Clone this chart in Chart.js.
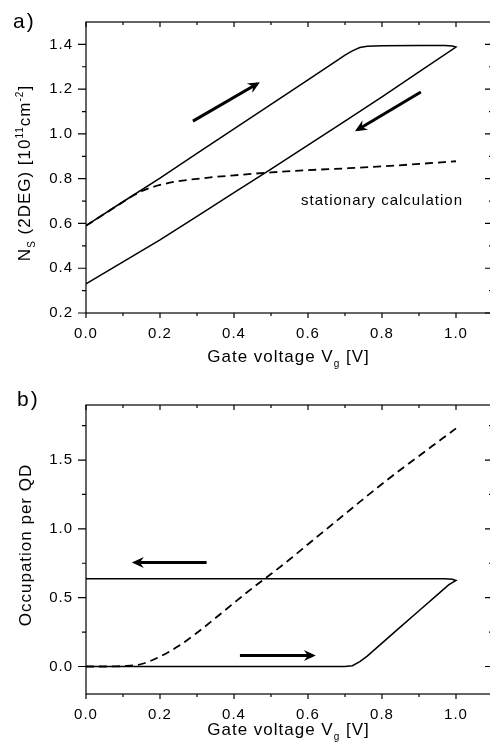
<!DOCTYPE html>
<html>
<head>
<meta charset="utf-8">
<script src="https://cdn.jsdelivr.net/npm/chart.js@4.4.1/dist/chart.umd.min.js"></script>
<style>
  html, body { margin: 0; padding: 0; background: #fff; overflow: hidden; }
  .wrap { width: 490px; height: 743px; overflow: hidden; }
  canvas { display: block; }
</style>
</head>
<body>
<div class="wrap">
  <canvas id="panelA" width="496" height="372"></canvas>
  <canvas id="panelB" width="496" height="371"></canvas>
</div>
<script>
const FONT = "'Liberation Sans', Arial, sans-serif";
Chart.defaults.font.family = FONT;
Chart.defaults.font.size = 15;
Chart.defaults.color = '#000';

// shared x axis ticks (gate voltage)
const xTicksMajor = [0, 0.2, 0.4, 0.6, 0.8, 1.0];
const xTicksMinor = [0.1, 0.3, 0.5, 0.7, 0.9, 1.1];

// a) 2DEG density, hysteresis loop (up sweep then down sweep)
const loopAVg = [0, 0.1, 0.2, 0.3, 0.4, 0.5, 0.6, 0.68, 0.70, 0.72, 0.74, 0.76, 0.8, 0.9, 0.97, 0.99, 1.0,
                 0.9, 0.8, 0.7, 0.6, 0.5, 0.4, 0.3, 0.2, 0.1, 0];
const loopANs = [0.59, 0.697, 0.803, 0.913, 1.022, 1.132, 1.242, 1.330, 1.352, 1.371, 1.386, 1.392, 1.394, 1.395, 1.395, 1.393, 1.388,
                 1.277, 1.166, 1.057, 0.950, 0.843, 0.738, 0.632, 0.527, 0.428, 0.33];
// a) stationary calculation (dashed)
const statAVg = [0, 0.05, 0.1, 0.13, 0.15, 0.17, 0.2, 0.25, 0.3, 0.35, 0.4, 0.5, 0.6, 0.7, 0.8, 0.9, 1.0];
const statANs = [0.59, 0.643, 0.696, 0.727, 0.744, 0.757, 0.772, 0.789, 0.799, 0.808, 0.815, 0.828, 0.838, 0.846, 0.855, 0.866, 0.878];
// a) sweep direction arrows: [Vg, Ns] tail -> head
const arrowUpA = [[0.289, 1.057], [0.463, 1.224]];
const arrowDownA = [[0.905, 1.187], [0.734, 1.019]];
const yTicksMajorA = [0.2, 0.4, 0.6, 0.8, 1.0, 1.2, 1.4];
const yTicksMinorA = [0.3, 0.5, 0.7, 0.9, 1.1, 1.3];

// b) occupation per QD, hysteresis loop
const loopBVg = [0, 0.70, 0.72, 0.74, 0.76, 0.8, 0.85, 0.9, 0.95, 0.98, 1.0, 0.99, 0.97, 0];
const loopBOcc = [0, 0, 0.006, 0.035, 0.075, 0.170, 0.288, 0.405, 0.522, 0.593, 0.625, 0.634, 0.638, 0.638];
// b) stationary occupation (dashed)
const statBVg = [0, 0.05, 0.1, 0.15, 0.2, 0.25, 0.3, 0.35, 0.4, 0.45, 0.5, 0.55, 0.6, 0.65, 0.7, 0.75, 0.8, 0.85, 0.9, 0.95, 1.0];
const statBOcc = [0, 0, 0.003, 0.018, 0.072, 0.148, 0.245, 0.352, 0.462, 0.570, 0.672, 0.777, 0.888, 0.998, 1.108, 1.218, 1.326, 1.43, 1.53, 1.63, 1.73];
const arrowLeftB = [[0.326, 0.756], [0.132, 0.756]];
const arrowRightB = [[0.416, 0.08], [0.613, 0.08]];
const yTicksMajorB = [0, 0.5, 1.0, 1.5];
const yTicksMinorB = [0.25, 0.75, 1.25, 1.75];

// axis titles as [text, 'sub' | 'sup' | '']
const xTitle = [['Gate voltage V', ''], ['g', 'sub'], [' [V]', '']];
const yTitleA = [['N', ''], ['S', 'sub'], [' (2DEG) [10', ''], ['11', 'sup'], ['cm', ''], ['-2', 'sup'], [']', '']];
const yTitleB = [['Occupation per QD', '']];

const pts = (xs, ys) => xs.map((x, i) => ({ x, y: ys[i] }));
const pair = ab => pts(ab.map(q => q[0]), ab.map(q => q[1]));

function drawRich(ctx, parts, cx, baseY, size) {
  const small = Math.round(size * 0.6);
  const fontOf = kind => (kind ? small : size) + 'px ' + FONT;
  const widths = parts.map(([t, kind]) => { ctx.font = fontOf(kind); return ctx.measureText(t).width; });
  let x = cx - widths.reduce((a, b) => a + b, 0) / 2;
  ctx.textAlign = 'left';
  parts.forEach(([t, kind], i) => {
    ctx.font = fontOf(kind);
    const dy = kind === 'sub' ? size * 0.32 : kind === 'sup' ? -size * 0.42 : 0;
    ctx.fillText(t, x, baseY + dy);
    x += widths[i];
  });
}

// frame with ticks on all four sides (Origin style)
const frameTicks = {
  id: 'frameTicks',
  afterDraw(chart, args, o) {
    const { ctx, chartArea: ca, scales: { x, y } } = chart;
    ctx.save();
    ctx.strokeStyle = '#000';
    ctx.lineWidth = 1.2;
    ctx.strokeRect(ca.left, ca.top, ca.right - ca.left, ca.bottom - ca.top);
    ctx.beginPath();
    const xt = (v, len) => {
      const px = x.getPixelForValue(v);
      ctx.moveTo(px, ca.bottom); ctx.lineTo(px, ca.bottom + len);
      ctx.moveTo(px, ca.top); ctx.lineTo(px, ca.top + len);
    };
    const yt = (v, len) => {
      const py = y.getPixelForValue(v);
      ctx.moveTo(ca.left, py); ctx.lineTo(ca.left - len, py);
      ctx.moveTo(ca.right, py); ctx.lineTo(ca.right - len, py);
    };
    xTicksMajor.forEach(v => xt(v, 5));
    xTicksMinor.forEach(v => xt(v, 3));
    o.yMajor.forEach(v => yt(v, 8));
    o.yMinor.forEach(v => yt(v, 4));
    ctx.stroke();
    ctx.restore();
  }
};

// arrow heads, titles, panel tags
const panelText = {
  id: 'panelText',
  beforeDraw(chart) { chart.ctx.letterSpacing = '1px'; },
  afterDatasetsDraw(chart) {
    const ctx = chart.ctx;
    chart.data.datasets.forEach((ds, i) => {
      if (!ds.arrow) return;
      const p = chart.getDatasetMeta(i).data;
      const a = p[p.length - 2], b = p[p.length - 1];
      ctx.save();
      ctx.translate(b.x, b.y);
      ctx.rotate(Math.atan2(b.y - a.y, b.x - a.x));
      ctx.fillStyle = '#000';
      ctx.beginPath();
      ctx.moveTo(3, 0); ctx.lineTo(-9, -5.5); ctx.lineTo(-5, 0); ctx.lineTo(-9, 5.5);
      ctx.closePath();
      ctx.fill();
      ctx.restore();
    });
  },
  afterDraw(chart, args, o) {
    const { ctx, chartArea: ca, scales: { x, y } } = chart;
    ctx.save();
    ctx.fillStyle = '#000';
    ctx.textBaseline = 'alphabetic';
    ctx.letterSpacing = '2px';
    ctx.font = '21px ' + FONT;
    ctx.textAlign = 'left';
    ctx.fillText(o.tag, o.tagX, o.tagY);
    ctx.letterSpacing = '1px';
    drawRich(ctx, xTitle, (ca.left + ca.right) / 2 - 1, o.xTitleY, 17);
    if (o.note) {
      ctx.font = '15px ' + FONT;
      ctx.textAlign = 'left';
      ctx.fillText(o.note.text, x.getPixelForValue(o.note.at[0]), y.getPixelForValue(o.note.at[1]));
    }
    ctx.translate(o.yTitleX, o.yTitleY);
    ctx.rotate(-Math.PI / 2);
    drawRich(ctx, o.yTitle, 0, 0, 17);
    ctx.restore();
  }
};

function makePanel(id, p) {
  const line = (data, extra) => Object.assign({
    data, borderColor: '#000', borderWidth: 1.5, pointRadius: 0, fill: false, tension: 0
  }, extra);
  return new Chart(document.getElementById(id), {
    type: 'line',
    data: {
      datasets: [
        line(p.loop),
        line(p.stat, { borderWidth: 1.8, borderDash: [8, 5], cubicInterpolationMode: 'monotone' }),
        ...p.arrows.map(a => line(a, { borderWidth: 3, arrow: true }))
      ]
    },
    options: {
      responsive: false,
      animation: false,
      events: [],
      layout: { padding: { top: p.top, right: 3, left: 0, bottom: 0 } },
      plugins: {
        legend: { display: false },
        tooltip: { enabled: false },
        frameTicks: { yMajor: p.yMajor, yMinor: p.yMinor },
        panelText: p.text
      },
      scales: {
        x: {
          type: 'linear', min: 0, max: 1.1,
          afterFit: s => { s.height = p.xAxisH; },
          afterBuildTicks: s => { s.ticks = xTicksMajor.map(v => ({ value: v })); },
          grid: { display: false, drawTicks: false },
          border: { display: false },
          ticks: { padding: 12, maxRotation: 0, autoSkip: false, callback: v => v.toFixed(1) }
        },
        y: {
          type: 'linear', min: p.yMin, max: p.yMax,
          afterFit: s => { s.width = 86; },
          afterBuildTicks: s => { s.ticks = p.yMajor.map(v => ({ value: v })); },
          grid: { display: false, drawTicks: false },
          border: { display: false },
          ticks: { padding: 13, autoSkip: false, callback: v => v.toFixed(1) }
        }
      }
    },
    plugins: [frameTicks, panelText]
  });
}

makePanel('panelA', {
  loop: pts(loopAVg, loopANs),
  stat: pts(statAVg, statANs),
  arrows: [pair(arrowUpA), pair(arrowDownA)],
  top: 22, xAxisH: 59, yMin: 0.2, yMax: 1.5,
  yMajor: yTicksMajorA, yMinor: yTicksMinorA,
  text: {
    tag: 'a)', tagX: 13, tagY: 28,
    xTitleY: 362,
    yTitle: yTitleA, yTitleX: 30, yTitleY: 173,
    note: { text: 'stationary calculation', at: [0.581, 0.684] }
  }
});

makePanel('panelB', {
  loop: pts(loopBVg, loopBOcc),
  stat: pts(statBVg, statBOcc),
  arrows: [pair(arrowLeftB), pair(arrowRightB)],
  top: 33, xAxisH: 49, yMin: -0.2, yMax: 1.9,
  yMajor: yTicksMajorB, yMinor: yTicksMinorB,
  text: {
    tag: 'b)', tagX: 17, tagY: 34,
    xTitleY: 363,
    yTitle: yTitleB, yTitleX: 31, yTitleY: 173
  }
});
</script>
</body>
</html>
